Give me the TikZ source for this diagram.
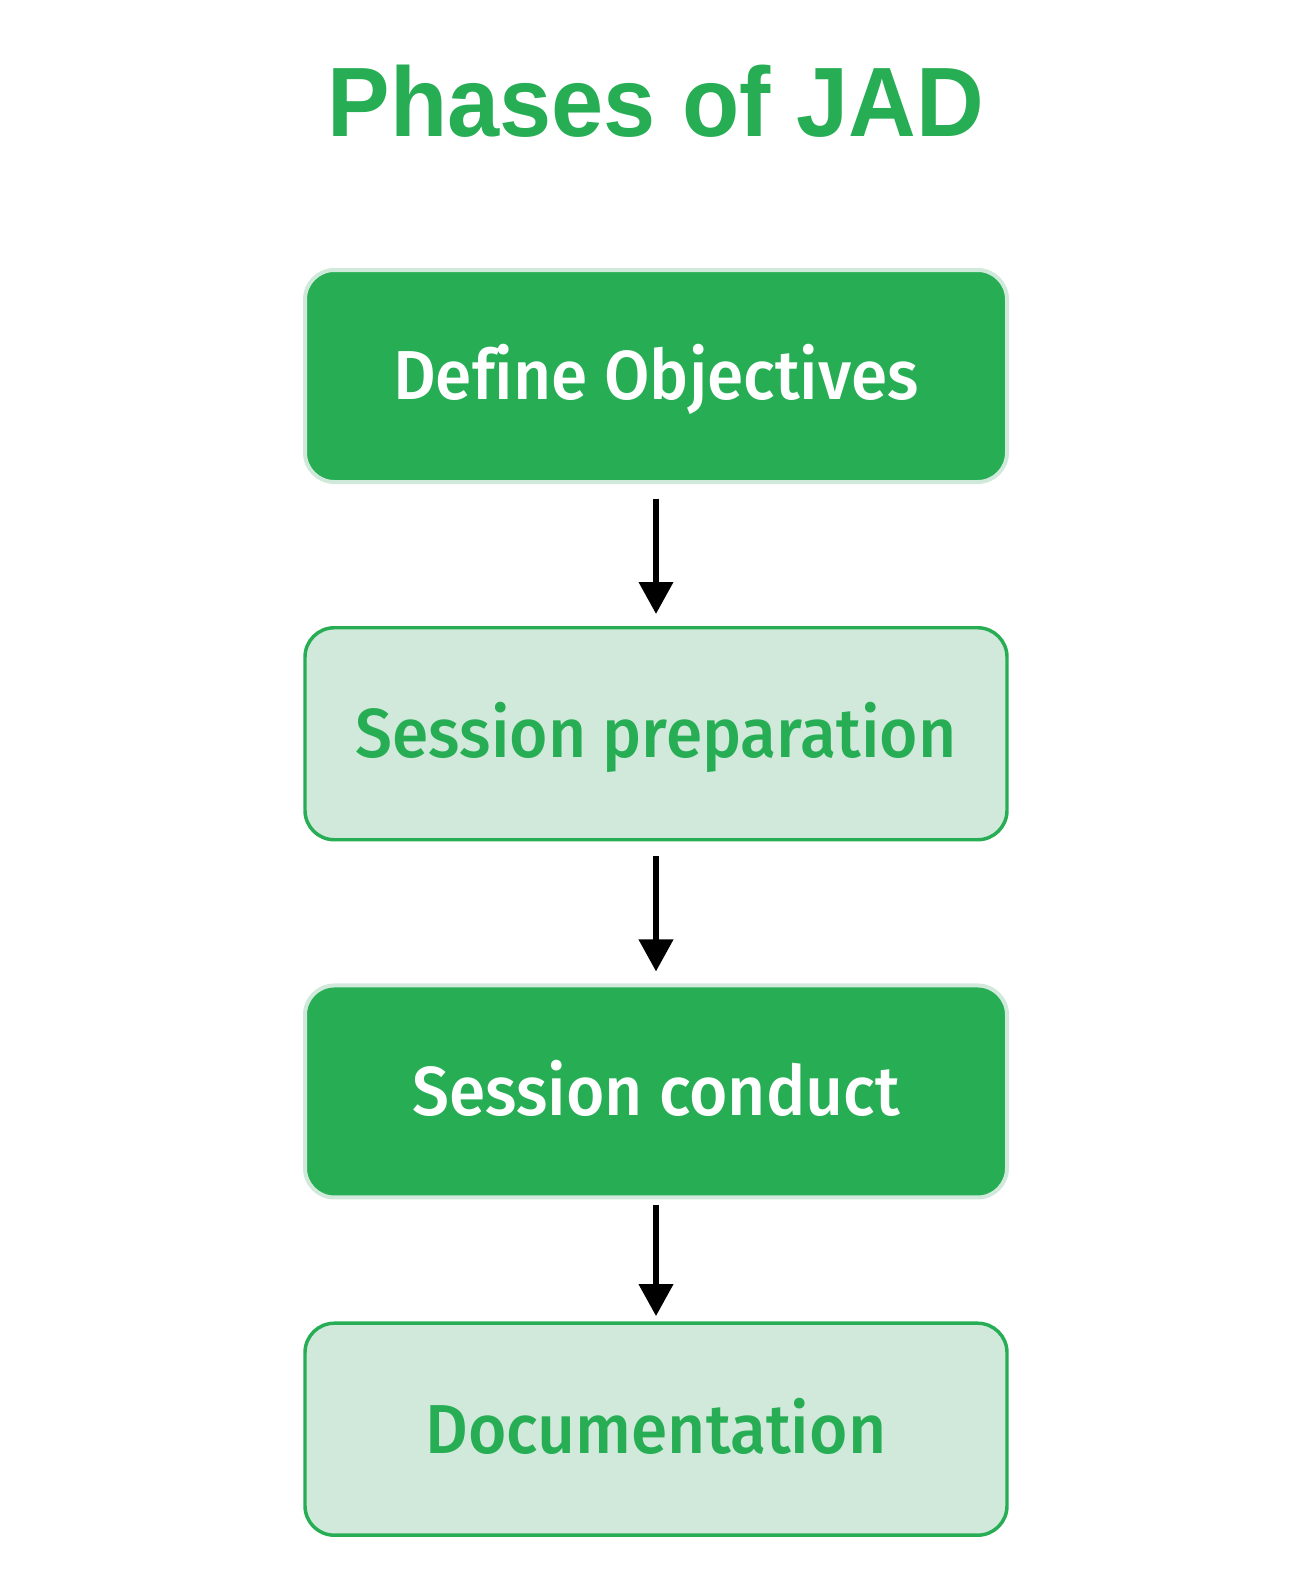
\documentclass[tikz,border=0pt]{standalone}
\usepackage{fontspec}
\setmainfont{Fira Sans}
\newfontfamily\titlefont[FakeStretch=0.95]{Liberation Sans Bold}
\newfontfamily\phasefont[FakeStretch=0.95,Ligatures=NoCommon]{Fira Sans Medium}
\usetikzlibrary{arrows.meta,positioning}
\definecolor{jadgreen}{HTML}{27AE55}
\definecolor{jadlight}{HTML}{D1E9DB}
\tikzset{
  phase/.style={rectangle,rounded corners=22pt,minimum width=526.5pt,minimum height=159pt,
    inner sep=0pt,text height=35.8pt,text depth=0pt,font=\phasefont\fontsize{52}{56}\selectfont},
  darkphase/.style={phase,fill=jadgreen,draw=jadlight,line width=3pt,text=white},
  lightphase/.style={phase,fill=jadlight,draw=jadgreen,line width=2.6pt,text=jadgreen},
  flow/.style={-{Triangle[length=24pt,width=25pt]},line width=4.5pt,shorten <=11pt,shorten >=9pt}
}

\begin{document}
\begin{tikzpicture}[x=0.75pt,y=-0.75pt]
  \useasboundingbox (0,0) rectangle (1294,1587);
  \node (title) [anchor=base,text=jadgreen,font=\titlefont\fontsize{74}{80}\selectfont] at (656,137) {Phases of JAD};

  \node (objectives)  [darkphase]                               at (656,376) {Define Objectives};
  \node (preparation) [lightphase,below=106.5pt of objectives]  {Session preparation};
  \node (conduct)     [darkphase,below=106.5pt of preparation]   {Session conduct};
  \node (documents)   [lightphase,below=91.5pt of conduct]       {Documentation};

  \path (objectives)  edge[flow] (preparation)
        (preparation) edge[flow] (conduct)
        (conduct)     edge[flow,shorten <=4pt,shorten >=4pt] (documents);
\end{tikzpicture}
\end{document}
